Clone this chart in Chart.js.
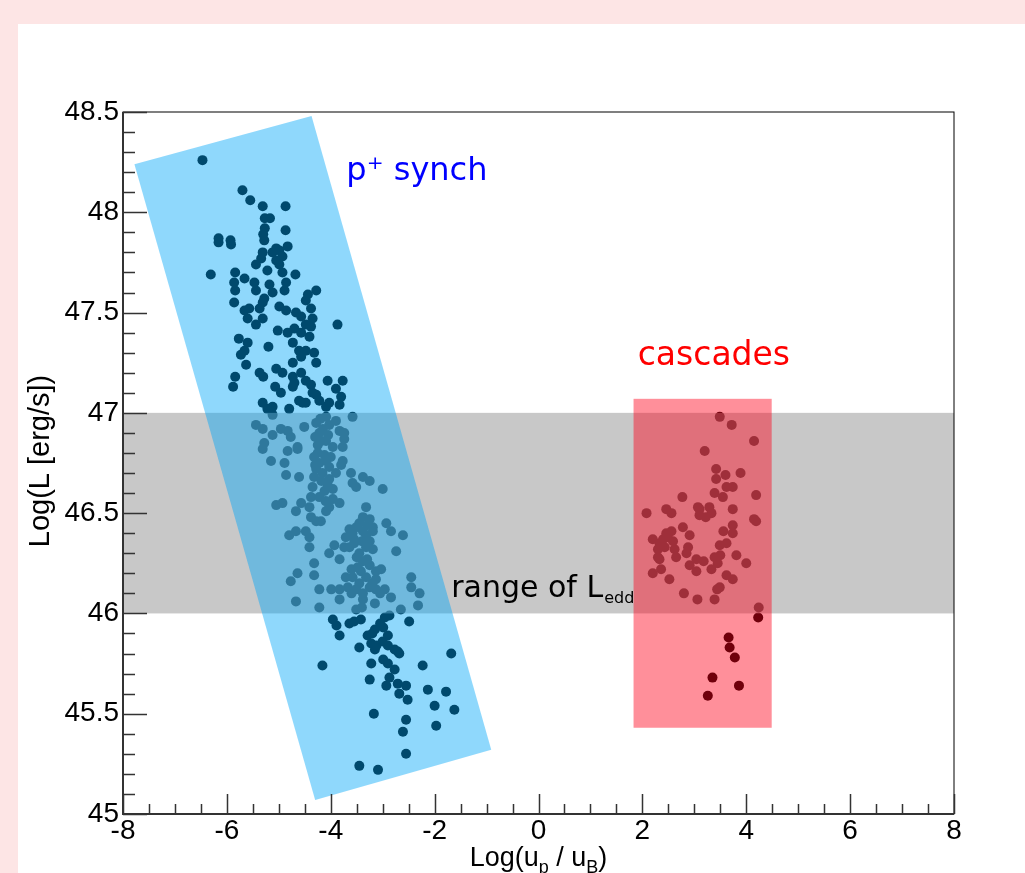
<!DOCTYPE html>
<html>
<head>
<meta charset="utf-8">
<script src="https://cdn.jsdelivr.net/npm/chart.js@4.4.0/dist/chart.umd.min.js"></script>
<style>
  html, body { margin: 0; padding: 0; background: #fde5e5; overflow: hidden; }
  #panel { position: absolute; left: 18px; top: 24px; width: 1007px; height: 849px; background: #fff; }
  canvas { display: block; }
</style>
</head>
<body>
<div id="panel"><canvas id="chart" width="1007" height="849"></canvas></div>
<script>
// Points of the proton-synchrotron sample, [log(up/uB), log L]
const synchPoints = [
  [-6.47,48.26],[-5.70,48.11],[-5.55,48.06],[-5.31,48.03],[-4.87,48.03],[-5.27,47.97],[-5.17,47.97],
  [-4.87,47.91],[-5.27,47.92],[-5.30,47.89],[-5.28,47.86],[-6.16,47.87],[-6.16,47.85],[-5.93,47.86],
  [-5.92,47.84],[-4.83,47.83],[-5.05,47.82],[-5.12,47.80],[-4.99,47.81],[-4.93,47.78],[-5.31,47.80],
  [-5.34,47.77],[-5.05,47.76],[-4.99,47.74],[-5.44,47.74],[-5.22,47.71],[-6.31,47.69],[-5.84,47.70],
  [-5.86,47.65],[-5.84,47.61],[-5.66,47.67],[-5.47,47.65],[-5.44,47.61],[-5.18,47.64],[-5.12,47.60],
  [-4.93,47.70],[-4.86,47.65],[-4.89,47.61],[-4.68,47.69],[-5.28,47.57],[-5.31,47.55],[-4.28,47.61],
  [-4.44,47.59],[-4.48,47.56],[-4.38,47.52],[-5.86,47.55],[-5.66,47.51],[-5.57,47.52],[-5.37,47.52],
  [-5.60,47.47],[-5.44,47.44],[-5.31,47.47],[-4.99,47.53],[-4.86,47.51],[-4.67,47.50],[-4.57,47.48],
  [-4.48,47.44],[-4.38,47.43],[-4.35,47.47],[-5.02,47.41],[-4.83,47.40],[-4.70,47.42],[-4.57,47.40],
  [-4.41,47.38],[-3.87,47.44],[-5.77,47.37],[-5.60,47.35],[-5.73,47.29],[-5.66,47.31],[-5.63,47.24],
  [-5.20,47.33],[-4.73,47.35],[-4.61,47.31],[-4.57,47.28],[-4.48,47.31],[-4.32,47.30],[-4.28,47.25],
  [-4.73,47.25],[-5.84,47.18],[-5.88,47.13],[-5.37,47.20],[-5.30,47.18],[-5.05,47.22],[-4.93,47.20],
  [-5.07,47.13],[-4.96,47.10],[-4.73,47.18],[-4.73,47.13],[-4.57,47.20],[-4.48,47.16],[-4.38,47.14],
  [-4.35,47.10],[-4.06,47.16],[-3.77,47.16],[-3.90,47.12],[-3.80,47.08],[-5.31,47.05],[-5.22,47.02],
  [-4.80,47.02],[-4.61,47.06],[-4.48,47.05],[-4.22,47.06],[-4.03,47.05],[-3.83,47.04],[-5.12,47.03],
  [-4.54,47.05],[-4.09,47.03],[-4.70,47.15],[-4.28,47.09],
  [-5.44,46.94],[-5.31,46.92],[-5.12,46.99],[-4.96,46.92],[-4.83,46.91],[-4.77,46.88],[-4.51,46.93],
  [-4.28,46.95],[-4.22,46.90],[-4.09,46.98],[-4.03,46.94],[-3.90,46.96],[-3.83,46.91],[-3.74,46.90],
  [-3.58,46.98],[-5.28,46.85],[-5.31,46.82],[-5.12,46.89],[-4.83,46.81],[-4.64,46.83],[-4.25,46.84],
  [-4.09,46.86],[-3.96,46.83],[-3.77,46.83],[-3.74,46.87],
  [-4.20,46.97],[-4.15,46.92],[-4.30,46.88],[-4.18,46.86],[-4.05,46.89],[-4.25,46.80],[-4.12,46.79],
  [-4.30,46.74],[-4.18,46.66],[-4.06,46.64],[-3.90,46.70],[-4.22,46.58],[-4.10,46.56],
  [-5.15,46.76],[-4.89,46.75],[-4.64,46.82],[-4.86,46.69],[-4.61,46.68],[-4.32,46.78],[-4.22,46.75],
  [-4.28,46.72],[-4.09,46.76],[-4.00,46.78],[-4.16,46.70],[-4.03,46.73],[-3.80,46.74],[-3.77,46.76],
  [-3.61,46.70],[-4.32,46.68],[-4.03,46.67],[-3.96,46.62],[-4.35,46.63],[-4.12,46.61],[-3.51,46.63],
  [-3.38,46.68],[-3.25,46.66],[-3.00,46.62],[-3.58,46.65],
  [-5.05,46.54],[-4.93,46.55],[-4.67,46.51],[-4.57,46.55],[-4.41,46.53],[-4.38,46.48],[-4.28,46.46],
  [-4.19,46.46],[-4.09,46.51],[-4.03,46.53],[-3.96,46.57],[-3.83,46.55],[-4.38,46.58],[-3.32,46.53],
  [-3.38,46.48],[-3.25,46.47],[-3.19,46.43],[-3.64,46.42],[-3.51,46.43],[-3.38,46.41],[-4.80,46.39],
  [-4.67,46.41],[-4.48,46.41],[-4.41,46.38],[-3.71,46.38],[-3.58,46.40],[-2.93,46.45],[-2.84,46.41],
  [-2.61,46.39],[-3.32,46.39],[-3.19,46.41],
  [-3.45,46.45],[-3.30,46.44],[-3.55,46.37],[-3.40,46.36],[-3.25,46.36],[-3.50,46.28],[-3.30,46.27],
  [-3.60,46.22],[-3.25,46.24],[-3.45,46.15],[-3.20,46.15],[-3.60,46.10],[-3.05,46.10],[-3.40,46.03],
  [-3.15,46.05],
  [-4.41,46.33],[-4.03,46.30],[-3.93,46.34],[-3.83,46.27],[-3.74,46.33],[-3.64,46.33],[-3.55,46.35],
  [-3.45,46.30],[-3.32,46.33],[-3.19,46.32],[-3.38,46.26],[-3.48,46.23],[-2.74,46.31],[-4.32,46.25],
  [-4.32,46.19],[-4.64,46.20],[-4.77,46.16],[-3.71,46.18],[-3.58,46.18],[-3.42,46.21],[-3.32,46.18],
  [-3.13,46.21],[-3.03,46.22],[-3.13,46.17],[-2.45,46.18],[-2.45,46.13],
  [-4.67,46.06],[-4.22,46.12],[-4.22,46.03],[-3.99,46.12],[-3.83,46.12],[-3.83,46.07],[-3.67,46.13],
  [-3.51,46.12],[-3.38,46.10],[-3.25,46.13],[-3.13,46.12],[-2.96,46.12],[-2.84,46.08],[-2.65,46.02],
  [-2.29,46.10],[-2.32,46.04],[-3.51,46.02],[-3.38,46.07],
  [-3.96,45.97],[-3.89,45.94],[-3.83,45.89],[-3.64,45.95],[-3.55,45.96],[-3.42,45.97],[-3.29,45.89],
  [-3.22,45.85],[-3.15,45.82],[-3.12,45.84],[-3.22,45.75],[-3.25,45.67],[-3.15,45.92],[-2.99,45.93],
  [-2.96,45.98],[-2.87,45.99],[-2.90,45.89],[-2.90,45.84],[-2.77,45.82],[-2.71,45.81],[-2.68,45.80],
  [-2.99,45.77],[-2.90,45.75],[-2.77,45.72],[-2.87,45.68],[-2.93,45.64],[-2.71,45.65],[-2.55,45.64],
  [-2.68,45.60],[-2.52,45.57],[-2.49,45.96],[-3.45,45.83],[-4.16,45.74],[-2.23,45.74],[-2.13,45.62],
  [-1.78,45.61],[-2.00,45.54],[-1.62,45.52],[-1.68,45.80],[-1.97,45.44],[-2.55,45.47],[-2.61,45.41],
  [-2.55,45.30],[-3.17,45.50],[-3.45,45.24],[-3.09,45.22],[-3.05,45.95],[-3.20,45.90],[-3.00,45.86]
];

// Points of the cascade sample
const cascadePoints = [
  [3.49,46.98],[3.72,46.94],[4.15,46.86],[3.20,46.81],[3.42,46.72],[3.60,46.69],[3.89,46.70],
  [3.42,46.67],[3.62,46.63],[3.74,46.63],[3.39,46.60],[3.55,46.58],[2.77,46.58],[4.19,46.59],
  [3.74,46.52],[3.07,46.53],[3.29,46.53],[3.10,46.49],[3.22,46.48],[3.33,46.50],[2.46,46.52],
  [2.56,46.50],[2.08,46.50],[4.15,46.47],[4.19,46.46],[2.78,46.43],[2.91,46.39],[2.56,46.41],
  [2.46,46.40],[2.40,46.37],[2.33,46.35],[2.20,46.37],[2.30,46.32],[2.30,46.28],[2.33,46.27],
  [2.36,46.22],[2.20,46.20],[2.52,46.17],[2.65,46.28],[2.62,46.32],[2.88,46.33],[2.85,46.30],
  [2.91,46.24],[3.04,46.21],[3.04,46.27],[3.18,46.26],[3.33,46.22],[3.39,46.28],[3.45,46.25],
  [3.50,46.29],[3.49,46.34],[3.62,46.35],[3.56,46.41],[3.74,46.44],[3.74,46.40],[3.81,46.29],
  [4.00,46.25],[3.62,46.19],[3.74,46.17],[3.44,46.12],[3.49,46.13],[3.39,46.07],[3.06,46.07],
  [2.80,46.10],[4.24,46.03],[2.49,46.38],[2.43,46.33],[2.59,46.36],[3.10,46.52],
  [4.23,45.98],[3.66,45.88],[3.68,45.83],[3.78,45.78],[3.35,45.68],[3.86,45.64],[3.26,45.59]
];

// Shaded regions
const lEddRange = [46, 47];
const synchBandX = [-7.78, -4.37, -0.91, -4.30];
const synchBandY = [48.24, 48.48, 45.32, 45.07];
const cascadeBoxX = [1.83, 4.49];
const cascadeBoxY = [45.43, 47.07];

// Axis ranges and ticks
const xRange = [-8, 8];
const yRange = [45, 48.5];
const xTickStep = 2;
const yTickStep = 0.5;

// Annotation texts and anchors (data coordinates, left/baseline)
const labelTexts = ['p\u207A synch', 'cascades', 'range of L'];
const labelX = [-3.70, 1.91, -1.68];
const labelY = [48.16, 47.24, 46.08];
const labelColors = ['#0000ff', '#ff0000', '#000000'];
const labelSizes = [32, 33, 30];

const overlays = {
  id: 'overlays',
  afterDatasetsDraw(chart) {
    const { ctx, chartArea: a, scales: { x, y } } = chart;
    ctx.save();
    // Eddington luminosity band
    const t = y.getPixelForValue(lEddRange[1]);
    const b = y.getPixelForValue(lEddRange[0]);
    ctx.fillStyle = 'rgba(155,155,155,0.55)';
    ctx.fillRect(a.left, t, a.right - a.left, b - t);
    // p+ synch band
    ctx.fillStyle = 'rgba(0,166,248,0.44)';
    ctx.beginPath();
    synchBandX.forEach((v, i) => {
      const px = x.getPixelForValue(v), py = y.getPixelForValue(synchBandY[i]);
      if (i) ctx.lineTo(px, py); else ctx.moveTo(px, py);
    });
    ctx.closePath();
    ctx.fill();
    // cascades box
    ctx.fillStyle = 'rgba(255,0,25,0.44)';
    const x0 = x.getPixelForValue(cascadeBoxX[0]), x1 = x.getPixelForValue(cascadeBoxX[1]);
    const y0 = y.getPixelForValue(cascadeBoxY[1]), y1 = y.getPixelForValue(cascadeBoxY[0]);
    ctx.fillRect(x0, y0, x1 - x0, y1 - y0);
    ctx.restore();
  },
  afterDraw(chart) {
    const { ctx, chartArea: a, scales: { x, y } } = chart;
    ctx.save();
    // frame
    ctx.strokeStyle = '#000';
    ctx.lineWidth = 1;
    ctx.strokeRect(a.left, a.top, a.right - a.left, a.bottom - a.top);
    ctx.strokeStyle = '#333';
    ctx.lineWidth = 2;
    ctx.beginPath();
    ctx.moveTo(a.left, a.top); ctx.lineTo(a.left, a.bottom); ctx.lineTo(a.right, a.bottom);
    ctx.stroke();
    // inward ticks
    ctx.lineWidth = 1.5;
    ctx.beginPath();
    for (let i = 0; i <= 35; i++) {
      const py = Math.round(y.getPixelForValue(yRange[0] + i * 0.1)) + 0.5;
      ctx.moveTo(a.left, py); ctx.lineTo(a.left + (i % 5 === 0 ? 24 : 12), py);
    }
    for (let i = 0; i <= 32; i++) {
      const px = Math.round(x.getPixelForValue(xRange[0] + i * 0.5)) + 0.5;
      ctx.moveTo(px, a.bottom); ctx.lineTo(px, a.bottom - (i % 4 === 0 ? 20 : 10));
    }
    ctx.stroke();

    // axis titles
    ctx.fillStyle = '#000';
    ctx.textBaseline = 'alphabetic';
    const big = '27px "Liberation Sans", Arial, sans-serif';
    const small = '18px "Liberation Sans", Arial, sans-serif';
    const parts = [['Log(u', big, 0], ['p', small, 7], [' / u', big, 0], ['B', small, 7], [')', big, 0]];
    let w = 0;
    parts.forEach(p => { ctx.font = p[1]; w += ctx.measureText(p[0]).width; });
    let cx = (a.left + a.right) / 2 - w / 2;
    const base = 842;
    parts.forEach(p => {
      ctx.font = p[1];
      ctx.fillText(p[0], cx, base + p[2]);
      cx += ctx.measureText(p[0]).width;
    });
    ctx.save();
    ctx.translate(23, (a.top + a.bottom) / 2 - 2);
    ctx.rotate(-Math.PI / 2);
    ctx.font = '29px "Liberation Sans", Arial, sans-serif';
    ctx.textAlign = 'center';
    ctx.textBaseline = 'middle';
    ctx.fillText('Log(L [erg/s])', 0, 0);
    ctx.restore();

    // annotations
    labelTexts.forEach((txt, i) => {
      ctx.font = labelSizes[i] + 'px "DejaVu Sans", sans-serif';
      ctx.fillStyle = labelColors[i];
      const px = x.getPixelForValue(labelX[i]), py = y.getPixelForValue(labelY[i]);
      ctx.fillText(txt, px, py);
      if (i === 2) {
        const ww = ctx.measureText(txt).width;
        ctx.font = '16px "DejaVu Sans", sans-serif';
        ctx.fillText('edd', px + ww + 1, py + 6);
      }
    });
    ctx.restore();
  }
};

const tickFont = { family: '"Liberation Sans", Arial, sans-serif', size: 28 };

new Chart(document.getElementById('chart'), {
  type: 'scatter',
  data: {
    datasets: [
      { label: 'p+ synch', data: synchPoints.map(p => ({ x: p[0], y: p[1] })),
        backgroundColor: '#000', borderWidth: 0, pointRadius: 5 },
      { label: 'cascades', data: cascadePoints.map(p => ({ x: p[0], y: p[1] })),
        backgroundColor: '#000', borderWidth: 0, pointRadius: 5 }
    ]
  },
  options: {
    responsive: false,
    animation: false,
    devicePixelRatio: 1,
    layout: { padding: { left: 0, top: 88, right: 71, bottom: 0 } },
    plugins: { legend: { display: false }, tooltip: { enabled: false } },
    scales: {
      x: {
        type: 'linear', min: xRange[0], max: xRange[1],
        grid: { display: false, drawTicks: false, tickLength: 0 },
        border: { display: false },
        ticks: { stepSize: xTickStep, color: '#000', font: tickFont, padding: 0, maxRotation: 0 },
        afterFit(s) { s.height = 59; }
      },
      y: {
        type: 'linear', min: yRange[0], max: yRange[1],
        grid: { display: false, drawTicks: false, tickLength: 0 },
        border: { display: false },
        ticks: { stepSize: yTickStep, color: '#000', font: tickFont, padding: 4,
          callback: v => String(v) },
        afterFit(s) { s.width = 105; }
      }
    }
  },
  plugins: [overlays]
});
</script>
</body>
</html>
